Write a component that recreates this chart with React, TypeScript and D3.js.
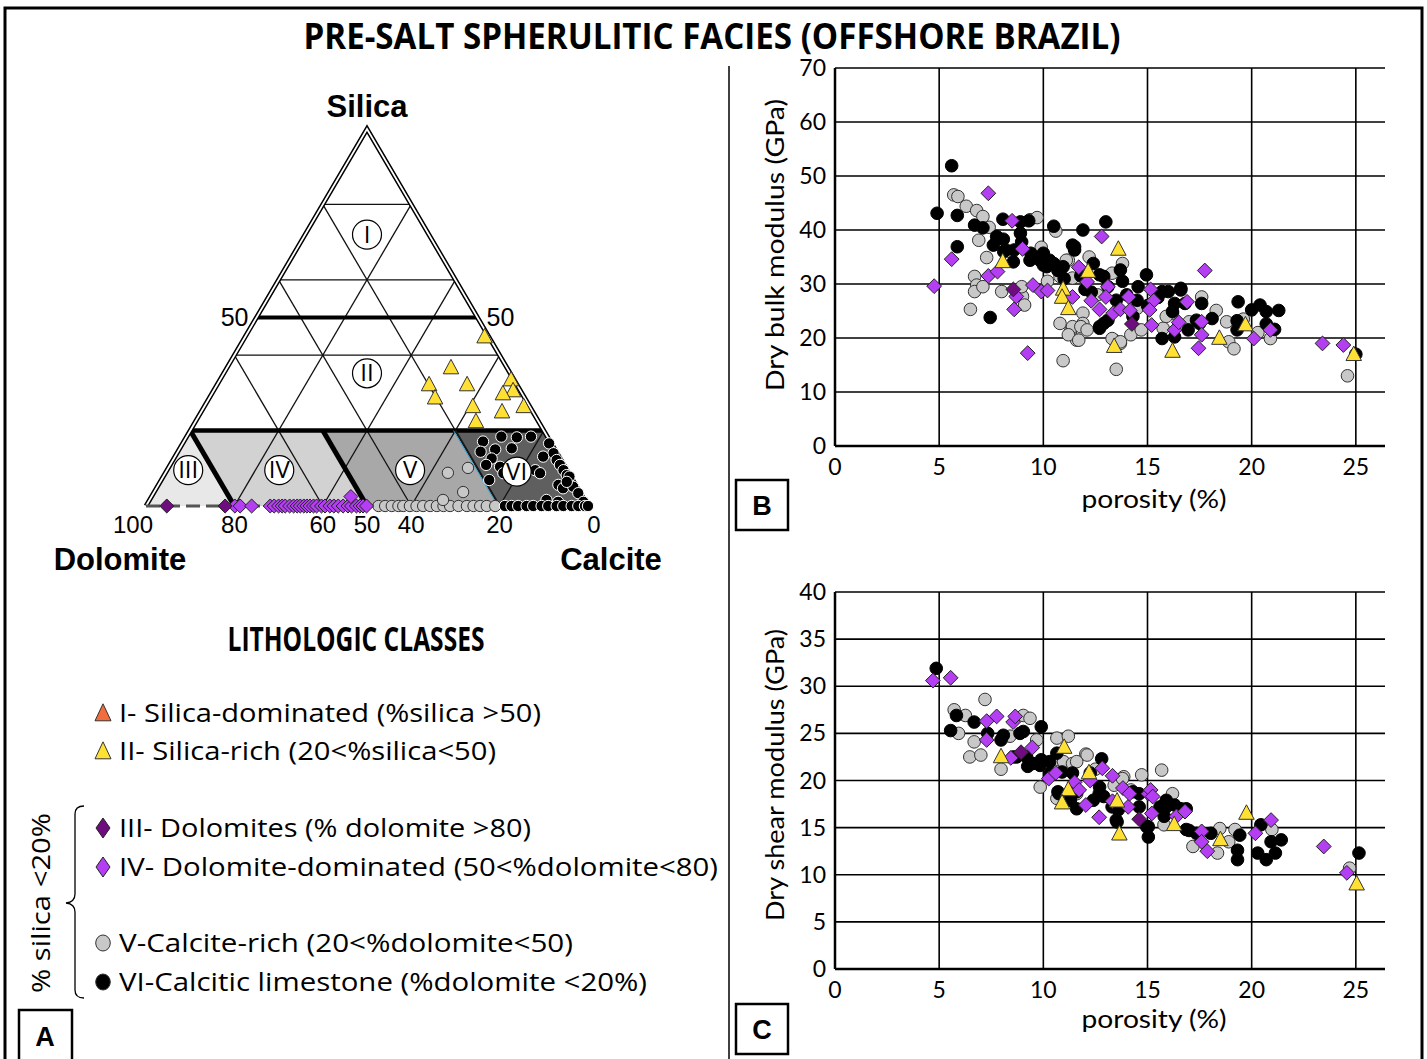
import React from 'react';
import * as d3 from 'd3';

// ---------------- DATA ----------------
const TITLE = 'PRE-SALT SPHERULITIC FACIES (OFFSHORE BRAZIL)';
const LEGEND_TITLE = 'LITHOLOGIC CLASSES';
const LEGEND_LABELS = [
  'I- Silica-dominated (%silica >50)',
  'II- Silica-rich (20<%silica<50)',
  'III- Dolomites (% dolomite >80)',
  'IV- Dolomite-dominated (50<%dolomite<80)',
  'V-Calcite-rich (20<%dolomite<50)',
  'VI-Calcitic limestone (%dolomite <20%)',
];
const CLASS_COLORS = ['#f26d3d', '#ffe033', '#6e0e7e', '#b43ff2', '#c8c8c8', '#000000'];
const ROMAN = ['I', 'II', 'III', 'IV', 'V', 'VI'];
// numeral positions [silica %, dolomite %]
const ROMAN_POS = [[72, 14], [35.2, 32.4], [9.5, 85.7], [9.5, 65.1], [9.5, 35.5], [9.1, 11.6]];

const TERN_GRID = [20, 40, 60, 80];
const TERN_BASE_LABELS = [100, 80, 60, 50, 40, 20, 0];

// Ternary samples: [silica %, dolomite %]
const ternSilicaRich = [[44.8, 1], [36.6, 12.7], [32.1, 19.9], [32.1, 11.3], [28.6, 20.3], [33.4, 0.7], [30.5, 1.7], [29.7, 4.4], [26.3, 1.4], [26.3, 12.9], [24.9, 7.0], [22.3, 14.2]];
const ternDolomites = [[0, 95.3], [0, 82.1]];
const ternDolDominated = [[0, 79.9], [0, 78.7], [0, 76.1], [0, 71.9], [0, 71.0], [0, 70.0], [0, 69.2], [0, 68.5], [0, 67.5], [0, 66.6], [0, 65.8], [0, 65.1], [0, 64.3], [0, 63.6], [0, 62.9], [0, 62.1], [0, 61.4], [0, 60.3], [0, 59.5], [0, 58.4], [0, 57.5], [0, 56.5], [0, 55.4], [0, 54.3], [0, 53.5], [0, 52.4], [0, 51.6], [0, 50.9], [0, 50.1], [2.5, 52.4]];
const ternCalciteRich = [[0, 47.4], [0, 45.9], [0, 44.4], [0, 42.9], [0, 41.8], [0, 40.3], [0, 38.8], [0, 37.3], [0, 35.7], [0, 34.2], [0, 32.7], [0, 31.2], [0, 29.3], [0, 27.4], [0, 25.9], [0, 24.4], [0, 22.9], [0, 21.0], [8.8, 27.3], [10.1, 22.1], [3.7, 26.4], [1.6, 32.0]];
const ternCalcitic = [[17.1, 15.2], [18.4, 10.4], [18.2, 7.0], [18.4, 3.7], [16.6, 0.5], [14.4, 17.1], [15.0, 13.5], [15.3, 9.6], [12.6, 15.5], [10.9, 17.6], [10.4, 14.7], [8.7, 14.8], [10.4, 11.7], [6.9, 18.9], [9.5, 7.2], [8.7, 6.5], [14.0, 0.8], [12.2, 1.0], [10.9, 0.9], [9.5, 0.8], [8.2, 0.7], [7.8, 0.3], [5.6, 3.9], [4.7, 3.3], [5.1, 0.8], [3.4, 0.5], [1.1, 0.5], [1.1, 6.2], [1.6, 8.6], [6.4, 1.6], [13.1, 3.6], [0, 18.8], [0, 17.3], [0, 15.8], [0, 13.9], [0, 12.4], [0, 10.5], [0, 9.0], [0, 7.1], [0, 5.6], [0, 3.7], [0, 2.2], [0, 0.7], [0, 0]];

// Panel B: [porosity %, dry bulk modulus GPa]
const bulkCalciteRich = [[5.7, 46.5], [5.9, 46.2], [6.3, 44.4], [6.8, 43.6], [7.1, 42.5], [9.36, 41.9], [9.7, 42.3], [10.6, 39.8], [6.9, 38.1], [7.28, 34.9], [6.7, 31.4], [6.8, 29.8], [6.7, 28.6], [7.1, 29.5], [6.5, 25.3], [8.0, 28.6], [9.0, 27.7], [9.1, 26.1], [8.96, 29.5], [11.2, 34.4], [10.8, 33.2], [10.8, 31.4], [11.4, 31.1], [11.9, 24.6], [11.9, 22.7], [10.8, 22.7], [11.3, 21.2], [11.6, 19.6], [13.4, 19.6], [13.7, 19.0], [11.1, 34.4], [13.8, 33.8], [13.3, 32.0], [10.95, 15.8], [13.5, 14.2], [11.4, 22.1], [11.8, 22.1], [12.1, 21.5], [11.2, 20.6], [11.7, 19.6], [13.3, 19.9], [13.7, 19.3], [14.2, 20.6], [14.7, 21.5], [15.75, 21.8], [18.3, 25.1], [18.8, 23.0], [18.9, 19.3], [19.15, 18.0], [20.9, 19.9], [24.6, 13.0], [17.6, 27.6], [16.2, 24.6], [7.4, 40.5], [8.4, 36.0], [9.9, 36.8], [12.6, 28.0], [14.5, 25.5], [15.9, 24.0], [17.0, 23.0], [19.6, 23.5], [20.3, 21.0], [12.2, 35.0], [10.2, 30.5]];
const bulkCalcitic = [[5.6, 51.9], [4.9, 43.1], [5.87, 42.7], [6.7, 40.9], [7.1, 40.4], [8.06, 42.0], [8.9, 41.5], [9.3, 41.7], [10.5, 40.7], [11.9, 40.0], [13.0, 41.5], [7.76, 38.8], [8.08, 38.3], [7.6, 37.2], [8.9, 39.4], [8.96, 37.8], [5.87, 36.9], [8.2, 36.3], [8.6, 36.3], [9.4, 35.7], [10.0, 35.1], [10.5, 33.8], [10.95, 33.2], [10.0, 33.5], [7.45, 23.8], [11.5, 36.9], [11.5, 36.3], [12.9, 22.7], [12.7, 21.8], [12.9, 31.4], [13.7, 32.6], [13.1, 29.5], [10.0, 35.7], [11.4, 37.2], [8.56, 34.1], [8.1, 36.0], [12.7, 31.7], [12.4, 33.8], [12.7, 22.1], [13.1, 23.3], [13.5, 27.0], [14.55, 29.5], [14.95, 31.7], [15.7, 28.6], [16.0, 28.6], [16.6, 29.2], [16.8, 26.4], [16.2, 24.9], [15.7, 19.9], [16.3, 20.2], [16.95, 21.5], [17.5, 22.7], [19.35, 26.7], [20.0, 25.2], [20.4, 26.1], [20.7, 24.9], [21.3, 25.1], [20.7, 22.6], [21.1, 21.6], [19.3, 23.2], [19.3, 21.5], [18.1, 23.6], [17.35, 23.3], [16.6, 28.9], [16.3, 26.4], [17.6, 26.4], [25.0, 17.0], [11.0, 31.0], [12.0, 29.0], [14.0, 28.0], [15.0, 26.0], [14.3, 24.0], [9.84, 34.4], [10.3, 34.4], [10.16, 33.2], [9.36, 34.4], [10.7, 32.5], [11.8, 31.5], [12.3, 28.5], [13.8, 30.5], [14.5, 27.0], [15.5, 27.5]];
const bulkDolDominated = [[7.36, 46.8], [8.5, 41.7], [12.8, 38.8], [5.6, 34.6], [9.0, 36.5], [7.36, 31.5], [7.8, 32.3], [4.76, 29.6], [8.7, 27.7], [8.6, 25.3], [9.5, 29.8], [9.9, 28.6], [10.2, 28.8], [11.4, 27.6], [12.1, 30.4], [11.7, 33.1], [12.3, 26.9], [12.7, 25.3], [13.35, 24.6], [13.1, 29.5], [13.0, 27.6], [14.1, 27.6], [13.7, 25.3], [14.15, 25.1], [15.15, 29.0], [15.3, 26.9], [15.1, 25.2], [15.2, 22.4], [16.3, 21.5], [16.5, 22.9], [16.9, 26.7], [9.25, 17.2], [17.75, 32.5], [17.6, 23.0], [17.6, 20.6], [17.45, 18.1], [20.1, 19.9], [20.9, 21.5], [23.4, 19.0], [24.4, 18.7]];
const bulkDolomites = [[8.56, 29.0], [14.25, 22.6]];
const bulkSilicaRich = [[8.05, 34.1], [10.95, 29.0], [10.9, 27.5], [11.2, 25.4], [12.15, 32.3], [13.6, 36.4], [13.4, 18.4], [16.2, 17.5], [18.45, 19.9], [19.7, 22.4], [24.9, 16.9]];

// Panel C: [porosity %, dry shear modulus GPa]
const shearCalciteRich = [[7.2, 28.6], [5.72, 27.5], [6.26, 26.9], [5.93, 25.0], [6.47, 22.5], [7.0, 22.7], [6.68, 24.1], [7.97, 21.2], [9.85, 19.3], [9.04, 26.9], [9.36, 26.6], [9.68, 24.3], [10.65, 24.5], [11.2, 24.7], [12.04, 22.8], [10.75, 22.2], [10.97, 22.0], [13.86, 20.4], [14.72, 20.6], [15.68, 21.1], [16.2, 18.6], [15.79, 15.3], [17.18, 13.0], [18.36, 12.3], [18.47, 14.9], [18.9, 13.5], [19.2, 14.8], [20.97, 14.8], [24.7, 10.7], [11.6, 18.6], [10.65, 18.1], [8.4, 24.7], [12.5, 21.2], [13.4, 19.5], [14.2, 19.0], [11.4, 21.8], [12.1, 22.7], [11.6, 22.0], [13.8, 20.2]];
const shearCalcitic = [[4.86, 31.9], [5.55, 25.3], [5.83, 26.9], [6.68, 26.2], [7.33, 25.0], [8.08, 24.8], [9.04, 25.2], [9.9, 25.7], [7.97, 24.3], [8.72, 22.5], [9.25, 21.5], [9.9, 22.2], [10.65, 22.9], [10.33, 20.8], [10.75, 18.6], [11.4, 19.0], [12.8, 22.3], [12.25, 20.8], [12.68, 18.6], [13.3, 17.2], [13.54, 15.6], [15.04, 14.0], [15.04, 15.1], [15.8, 16.2], [16.3, 17.4], [16.86, 14.8], [18.04, 14.4], [19.43, 14.2], [19.32, 12.6], [19.32, 11.6], [20.29, 12.3], [20.7, 11.6], [20.93, 13.5], [21.14, 12.3], [21.42, 13.7], [20.44, 15.3], [25.15, 12.3], [14.6, 18.6], [15.9, 17.2], [16.86, 17.0], [8.88, 25.0], [9.2, 22.5], [9.84, 21.6], [10.3, 22.0], [10.9, 20.9], [11.4, 20.8], [11.6, 18.8], [10.7, 18.8], [11.3, 17.9], [11.6, 17.0], [12.4, 17.9], [12.7, 19.3], [12.9, 18.3], [13.5, 15.8], [13.6, 16.9], [14.6, 17.2], [14.96, 15.1], [15.6, 17.2], [15.9, 17.9], [16.6, 17.0], [17.0, 14.7], [17.35, 14.4], [14.3, 18.8], [8.56, 22.5], [9.5, 21.8]];
const shearDolDominated = [[4.7, 30.6], [5.55, 30.9], [7.28, 26.3], [7.76, 26.8], [7.28, 24.3], [8.55, 26.2], [8.65, 26.8], [8.44, 22.4], [9.47, 23.5], [10.26, 20.2], [10.6, 20.8], [11.5, 19.8], [11.72, 19.0], [12.04, 17.4], [12.25, 20.0], [12.83, 21.3], [13.32, 20.5], [13.32, 17.8], [13.82, 19.2], [14.07, 17.2], [14.14, 18.6], [12.68, 16.1], [15.04, 18.6], [15.15, 19.0], [15.25, 18.3], [15.21, 16.5], [16.39, 16.2], [16.8, 16.7], [17.6, 14.6], [17.6, 13.5], [17.87, 12.5], [20.18, 14.4], [20.93, 15.8], [23.46, 13.0], [24.57, 10.2]];
const shearDolomites = [[8.93, 23.0], [14.6, 15.9]];
const shearSilicaRich = [[7.97, 22.5], [11.0, 23.5], [12.19, 20.8], [11.2, 19.0], [10.9, 17.6], [13.54, 17.8], [13.65, 14.3], [16.28, 15.3], [18.5, 13.7], [19.75, 16.5], [25.04, 9.0]];

const X_TICKS = [0, 5, 10, 15, 20, 25];
const BULK_TICKS = [0, 10, 20, 30, 40, 50, 60, 70];
const SHEAR_TICKS = [0, 5, 10, 15, 20, 25, 30, 35, 40];

// ---------------- HELPERS ----------------
const diamondPath = (x: number, y: number, rx: number, ry: number) =>
  `M${x},${y - ry}L${x + rx},${y}L${x},${y + ry}L${x - rx},${y}Z`;
const trianglePath = (x: number, y: number, w: number, h: number) =>
  `M${x},${y - h * 0.6}L${x + w / 2},${y + h * 0.4}L${x - w / 2},${y + h * 0.4}Z`;

const SANS = "'Open Sans', 'DejaVu Sans', sans-serif";
const ARIAL = "'Liberation Sans', Arial, sans-serif";
const CAL = "Lato, 'Open Sans', sans-serif";
const COND = "'Liberation Sans Narrow', 'Open Sans', sans-serif";

// ternary scales
const ternY = d3.scaleLinear().domain([0, 100]).range([506, 129]);
const ternX = d3.scaleLinear().domain([0, 100]).range([588, 146]);
const tp = (s: number, d: number): [number, number] => [ternX(d + s / 2), ternY(s)];

type Pt = number[];

function Markers({ data, kind, fill, xs, ys, size = 1, stroke = '#222' }: any) {
  return (
    <g>
      {data.map((p: Pt, i: number) => {
        const x = xs(p), y = ys(p);
        if (kind === 'circle') return <circle key={i} cx={x} cy={y} r={6.3 * size} fill={fill} stroke={stroke} strokeWidth={1} />;
        if (kind === 'diamond') return <path key={i} d={diamondPath(x, y, 7.4 * size, 7.4 * size)} fill={fill} stroke="#222" strokeWidth={1} />;
        return <path key={i} d={trianglePath(x, y, 15.5 * size, 14.5 * size)} fill={fill} stroke="#333" strokeWidth={1} />;
      })}
    </g>
  );
}

function Scatter({ yTicks, yMax, yRange, yTitle, titleCenter, data, labelY, porosityY, boxY, letter }: any) {
  const x = d3.scaleLinear().domain([0, 26.4]).range([835, 1385]);
  const y = d3.scaleLinear().domain([0, yMax]).range(yRange);
  const xs = (p: Pt) => x(p[0]);
  const ys = (p: Pt) => y(p[1]);
  return (
    <g>
      {yTicks.map((t: number) => (
        <line key={'h' + t} x1={x(0)} x2={x(26.4)} y1={y(t)} y2={y(t)} stroke="#000" strokeWidth={t === 0 ? 2.5 : 1.6} />
      ))}
      {X_TICKS.map((t: number) => (
        <line key={'v' + t} x1={x(t)} x2={x(t)} y1={y(0)} y2={y(yMax)} stroke="#000" strokeWidth={t === 0 ? 2.5 : 1.6} />
      ))}
      {yTicks.map((t: number) => (
        <text key={'yl' + t} x={826} y={y(t) + 8} textAnchor="end" fontFamily={CAL} fontSize={23}>{t}</text>
      ))}
      {X_TICKS.map((t: number) => (
        <text key={'xl' + t} x={x(t)} y={labelY} textAnchor="middle" fontFamily={CAL} fontSize={23}>{t}</text>
      ))}
      <text x={0} y={0} transform={`translate(784,${titleCenter}) rotate(-90)`} textAnchor="middle" fontFamily={CAL} fontSize={25} textLength={292} lengthAdjust="spacingAndGlyphs">{yTitle}</text>
      <text x={1154} y={porosityY} textAnchor="middle" fontFamily={CAL} fontSize={25} textLength={145} lengthAdjust="spacingAndGlyphs">porosity (%)</text>
      <Markers data={data.calRich} kind="circle" fill={CLASS_COLORS[4]} xs={xs} ys={ys} stroke="#333" />
      <Markers data={data.calcitic} kind="circle" fill={CLASS_COLORS[5]} xs={xs} ys={ys} stroke="#000" />
      <Markers data={data.dolDom} kind="diamond" fill={CLASS_COLORS[3]} xs={xs} ys={ys} />
      <Markers data={data.dol} kind="diamond" fill={CLASS_COLORS[2]} xs={xs} ys={ys} />
      <Markers data={data.silRich} kind="triangle" fill={CLASS_COLORS[1]} xs={xs} ys={ys} />
      <rect x={736} y={boxY} width={52} height={50} fill="#fff" stroke="#000" strokeWidth={2.5} />
      <text x={762} y={boxY + 35} textAnchor="middle" fontFamily={ARIAL} fontWeight="bold" fontSize={27}>{letter}</text>
    </g>
  );
}

function Ternary() {
  const line = (a: [number, number], b: [number, number], props: any, key: string) => (
    <line key={key} x1={a[0]} y1={a[1]} x2={b[0]} y2={b[1]} {...props} />
  );
  const poly = (pts: [number, number][]) => pts.map((p) => p.join(',')).join(' ');
  const gridLines: any[] = [];
  TERN_GRID.forEach((v) => {
    gridLines.push(line(tp(v, 100 - v), tp(v, 0), { stroke: '#111', strokeWidth: 1.3 }, 's' + v));
    gridLines.push(line(tp(0, v), tp(100 - v, v), { stroke: '#111', strokeWidth: 1.3 }, 'd' + v));
    gridLines.push(line(tp(0, 100 - v), tp(100 - v, 0), { stroke: '#111', strokeWidth: 1.3 }, 'c' + v));
  });
  const A = tp(100, 0), D = tp(0, 100), C = tp(0, 0);
  const txs = (p: Pt) => tp(p[0], p[1])[0];
  const tys = (p: Pt) => tp(p[0], p[1])[1];
  return (
    <g>
      {/* band fills */}
      <polygon points={poly([tp(0, 80), tp(0, 100), tp(20, 80)])} fill="#e8e8e8" />
      <polygon points={poly([tp(0, 50), tp(0, 80), tp(20, 80), tp(20, 50)])} fill="#d2d2d2" />
      <polygon points={poly([tp(0, 20), tp(0, 50), tp(20, 50), tp(20, 20)])} fill="#a8a8a8" />
      <polygon points={poly([tp(0, 0), tp(0, 20), tp(20, 20), tp(20, 0)])} fill="#5f5f5f" />
      {gridLines}
      {/* thick boundaries */}
      {line(tp(20, 80), tp(20, 0), { stroke: '#000', strokeWidth: 4.5 }, 't20')}
      {line(tp(50, 50), tp(50, 0), { stroke: '#000', strokeWidth: 4 }, 't50')}
      {line(tp(0, 80), tp(20, 80), { stroke: '#000', strokeWidth: 5 }, 'td80')}
      {line(tp(0, 50), tp(20, 50), { stroke: '#000', strokeWidth: 5 }, 'td50')}
      {line(tp(0, 20), tp(20, 20), { stroke: '#1a1a1a', strokeWidth: 2 }, 'td20')}
      {line(tp(0, 20.4), tp(20, 20.4), { stroke: '#2fa4d8', strokeWidth: 1 }, 'td20b')}
      {/* double-line sides */}
      <polyline points={poly([D, A, C])} fill="none" stroke="#000" strokeWidth={4.8} strokeLinejoin="miter" />
      <polyline points={poly([D, A, C])} fill="none" stroke="#fff" strokeWidth={1.8} strokeLinejoin="miter" />
      <line x1={D[0]} y1={D[1]} x2={C[0]} y2={C[1]} stroke="#555" strokeWidth={3} strokeDasharray="14 6" />
      {/* samples */}
      <Markers data={ternCalciteRich} kind="circle" fill={CLASS_COLORS[4]} xs={txs} ys={tys} size={0.9} stroke="#333" />
      <Markers data={ternCalcitic} kind="circle" fill={CLASS_COLORS[5]} xs={txs} ys={tys} size={0.9} stroke="#fff" />
      <Markers data={ternDolDominated} kind="diamond" fill={CLASS_COLORS[3]} xs={txs} ys={tys} size={0.95} />
      <Markers data={ternDolomites} kind="diamond" fill={CLASS_COLORS[2]} xs={txs} ys={tys} size={0.95} />
      <Markers data={ternSilicaRich} kind="triangle" fill={CLASS_COLORS[1]} xs={txs} ys={tys} size={1.0} />
      {/* numerals */}
      {ROMAN.map((r, i) => {
        const [cx, cy] = tp(ROMAN_POS[i][0], ROMAN_POS[i][1]);
        return (
          <g key={r}>
            <circle cx={cx} cy={cy} r={14.5} fill="#fff" stroke="#000" strokeWidth={1.2} />
            <text x={cx} y={cy + 8} textAnchor="middle" fontFamily={COND} fontSize={24}>{r}</text>
          </g>
        );
      })}
      {/* labels */}
      <text x={A[0]} y={117} textAnchor="middle" fontFamily={ARIAL} fontWeight="bold" fontSize={31}>Silica</text>
      <text x={120} y={570} textAnchor="middle" fontFamily={ARIAL} fontWeight="bold" fontSize={31}>Dolomite</text>
      <text x={611} y={570} textAnchor="middle" fontFamily={ARIAL} fontWeight="bold" fontSize={31}>Calcite</text>
      <text x={tp(50, 50)[0] - 8} y={tp(50, 50)[1] + 8} textAnchor="end" fontFamily={ARIAL} fontSize={25}>50</text>
      <text x={tp(50, 0)[0] + 9} y={tp(50, 0)[1] + 8} textAnchor="start" fontFamily={ARIAL} fontSize={25}>50</text>
      {TERN_BASE_LABELS.map((v) => {
        const off = v === 100 ? -13 : v === 0 ? 6 : 0;
        return (
          <text key={v} x={tp(0, v)[0] + off} y={533} textAnchor="middle" fontFamily={ARIAL} fontSize={24}>{v}</text>
        );
      })}
    </g>
  );
}

function Legend() {
  const rows = [713, 751, 828, 867, 943, 982];
  const widths = [422, 377, 412, 599, 454, 528];
  return (
    <g>
      <text x={356} y={651} textAnchor="middle" fontFamily={COND} fontWeight="bold" fontSize={34} textLength={257} lengthAdjust="spacingAndGlyphs">{LEGEND_TITLE}</text>
      {LEGEND_LABELS.map((t, i) => {
        const y = rows[i];
        let marker;
        if (i < 2) marker = <path d={trianglePath(103, y + 1, 16, 17)} fill={CLASS_COLORS[i]} stroke="#333" strokeWidth={1} />;
        else if (i < 4) marker = <path d={diamondPath(103, y, 7, 10)} fill={CLASS_COLORS[i]} stroke="#222" strokeWidth={1} />;
        else marker = <ellipse cx={103} cy={y} rx={7.3} ry={8} fill={CLASS_COLORS[i]} stroke="#333" strokeWidth={1} />;
        return (
          <g key={i}>
            {marker}
            <text x={119} y={y + 9} fontFamily={SANS} fontSize={25} textLength={widths[i]} lengthAdjust="spacingAndGlyphs">{t}</text>
          </g>
        );
      })}
      <path d="M84,806 Q75,806 75,814 L75,894 Q75,902 66,903 Q75,904 75,912 L75,990 Q75,998 84,998" fill="none" stroke="#000" strokeWidth={1.3} />
      <text transform="translate(50,903) rotate(-90)" textAnchor="middle" fontFamily={SANS} fontSize={25} textLength={180} lengthAdjust="spacingAndGlyphs">% silica &lt;20%</text>
      <rect x={19} y={1010} width={53} height={52} fill="#fff" stroke="#000" strokeWidth={2.5} />
      <text x={45} y={1046} textAnchor="middle" fontFamily={ARIAL} fontWeight="bold" fontSize={27}>A</text>
    </g>
  );
}

export default function App() {
  return (
    <svg width={1427} height={1059} viewBox="0 0 1427 1059" style={{ position: 'absolute', left: 0, top: 0, background: '#fff' }}>
      <rect x={0} y={0} width={1427} height={1059} fill="#fff" />
      <rect x={5} y={8} width={1417} height={1080} fill="none" stroke="#000" strokeWidth={3} />
      <text x={712} y={49} textAnchor="middle" fontFamily={COND} fontWeight="bold" fontSize={35} textLength={817} lengthAdjust="spacingAndGlyphs">{TITLE}</text>
      <line x1={729} y1={66} x2={729} y2={1059} stroke="#000" strokeWidth={1.5} />
      <Ternary />
      <Legend />
      <Scatter
        yTicks={BULK_TICKS} yMax={70} yRange={[446, 68]} yTitle="Dry bulk modulus (GPa)" titleCenter={245}
        data={{ calRich: bulkCalciteRich, calcitic: bulkCalcitic, dolDom: bulkDolDominated, dol: bulkDolomites, silRich: bulkSilicaRich }}
        labelY={475} porosityY={508} boxY={480} letter="B"
      />
      <Scatter
        yTicks={SHEAR_TICKS} yMax={40} yRange={[969, 592]} yTitle="Dry shear modulus (GPa)" titleCenter={775}
        data={{ calRich: shearCalciteRich, calcitic: shearCalcitic, dolDom: shearDolDominated, dol: shearDolomites, silRich: shearSilicaRich }}
        labelY={998} porosityY={1028} boxY={1004} letter="C"
      />
    </svg>
  );
}
